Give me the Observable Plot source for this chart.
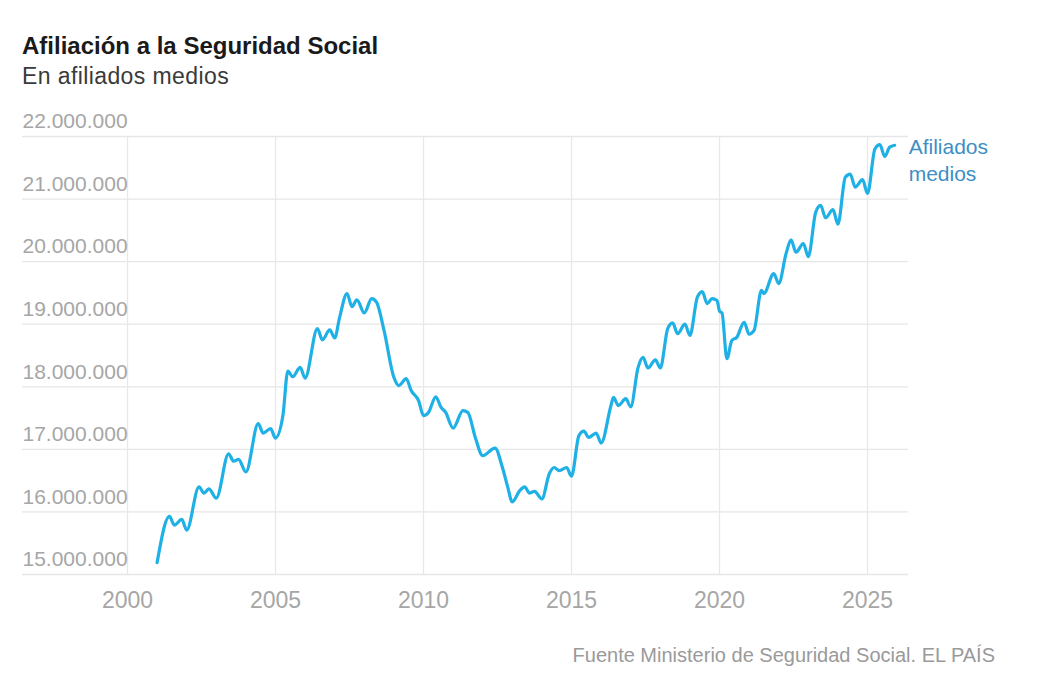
<!DOCTYPE html>
<html>
<head>
<meta charset="utf-8">
<script src="https://cdn.jsdelivr.net/npm/d3@7"></script>
<script src="https://cdn.jsdelivr.net/npm/@observablehq/plot@0.6"></script>
<style>
  html, body { margin: 0; padding: 0; background: #fff; }
  #wrap { position: relative; width: 1050px; height: 700px; font-family: "Liberation Sans", Arial, sans-serif; }
  #title { position: absolute; left: 22px; top: 34px; font-size: 24px; font-weight: bold; color: #1a1a1a; line-height: 1; }
  #subtitle { position: absolute; left: 22px; top: 65px; font-size: 23px; letter-spacing: 0.4px; color: #3a3a3a; line-height: 1; }
  #chart { position: absolute; left: 0; top: 100px; }
  #caption { position: absolute; right: 55px; top: 645px; font-size: 20px; color: #9a9a9a; line-height: 1; }
</style>
</head>
<body>
<div id="wrap">
  <div id="title">Afiliación a la Seguridad Social</div>
  <div id="subtitle">En afiliados medios</div>
  <div id="chart"></div>
  <div id="caption">Fuente Ministerio de Seguridad Social. EL PAÍS</div>
</div>
<script>
const months = [
  "2001-01","2001-06","2001-08","2001-11",
  "2002-01","2002-06","2002-08","2002-10",
  "2003-01","2003-06","2003-08","2003-10",
  "2004-01","2004-06","2004-08","2004-11",
  "2005-01","2005-04","2005-06","2005-08","2005-11",
  "2006-01","2006-06","2006-08","2006-11",
  "2007-01","2007-03","2007-06","2007-08","2007-10",
  "2008-01","2008-04","2008-06","2008-09",
  "2009-01","2009-03","2009-06","2009-08","2009-11",
  "2010-01","2010-03","2010-06","2010-08","2010-10",
  "2011-01","2011-05","2011-07","2011-10",
  "2012-01","2012-06","2012-09","2012-11",
  "2013-01","2013-04","2013-06","2013-08","2013-10",
  "2014-01","2014-04","2014-06","2014-08","2014-11",
  "2015-01","2015-04","2015-06","2015-08","2015-11",
  "2016-01","2016-05","2016-06","2016-08","2016-11",
  "2017-01","2017-04","2017-06","2017-08","2017-11",
  "2018-01","2018-04","2018-06","2018-08","2018-11",
  "2019-01","2019-04","2019-06","2019-08","2019-10","2019-12",
  "2020-01","2020-02","2020-04","2020-06","2020-08","2020-11",
  "2021-01","2021-03","2021-06","2021-07","2021-11",
  "2022-01","2022-04","2022-06","2022-08","2022-11",
  "2023-01","2023-04","2023-06","2023-08","2023-11",
  "2024-01","2024-04","2024-06","2024-08","2024-11",
  "2025-01","2025-04","2025-06","2025-08","2025-10","2025-12"
];
const afiliados = [
  15190000,15930000,15790000,15880000,
  15710000,16400000,16300000,16370000,
  16220000,16930000,16810000,16840000,
  16640000,17410000,17260000,17330000,
  17180000,17540000,18250000,18160000,18310000,
  18140000,18930000,18750000,18910000,
  18780000,19110000,19490000,19280000,19390000,
  19180000,19410000,19350000,18900000,
  18150000,18020000,18130000,17940000,17780000,
  17540000,17590000,17840000,17680000,17590000,
  17340000,17620000,17590000,17190000,
  16900000,17020000,16710000,16420000,
  16160000,16340000,16400000,16300000,16330000,
  16210000,16610000,16710000,16660000,16710000,
  16570000,17220000,17290000,17190000,17260000,
  17100000,17700000,17830000,17700000,17810000,
  17680000,18310000,18470000,18300000,18430000,
  18300000,18930000,19020000,18850000,19000000,
  18820000,19430000,19520000,19330000,19410000,19380000,
  19210000,19180000,18450000,18740000,18790000,19030000,
  18840000,18900000,19540000,19490000,19810000,
  19650000,20130000,20350000,20150000,20290000,
  20080000,20790000,20900000,20700000,20830000,
  20600000,21350000,21400000,21190000,21310000,
  21090000,21800000,21870000,21680000,21830000,21860000
];
const yTicks = [15000000,16000000,17000000,18000000,19000000,20000000,21000000,22000000];
const xTicks = [2000,2005,2010,2015,2020,2025];
const seriesLabel = "Afiliados\nmedios";

const data = months.map((m, i) => ({
  t: +m.slice(0, 4) + (+m.slice(5) - 1) / 12,
  v: afiliados[i]
}));
const fmt = d => String(d).replace(/\B(?=(\d{3})+(?!\d))/g, ".");

const chart = Plot.plot({
  width: 1050,
  height: 530,
  marginTop: 36,
  marginBottom: 56,
  marginLeft: 22,
  marginRight: 142,
  x: {type: "linear", domain: [1996.453, 2026.385], axis: null},
  y: {domain: [15000000, 22000000], axis: null},
  style: {fontFamily: "'Liberation Sans', Arial, sans-serif", color: "#a6a6a6", background: "white"},
  marks: [
    Plot.ruleY(yTicks, {stroke: "#e6e6e6", strokeWidth: 1.3}),
    Plot.ruleX(xTicks, {stroke: "#e8e8e8", strokeWidth: 1.3}),
    Plot.text(yTicks, {y: d => d, frameAnchor: "left", textAnchor: "start", dy: -15, text: fmt, fill: "#a6a6a6", fontSize: 21}),
    Plot.axisX(xTicks, {tickSize: 0, tickPadding: 17, fontSize: 23, label: null, tickFormat: d => String(d)}),
    Plot.line(data, {x: "t", y: "v", stroke: "#1fb0e6", strokeWidth: 3.2, strokeLinejoin: "round", strokeLinecap: "round", curve: "monotone-x"}),
    Plot.text([data[data.length - 1]], {x: "t", y: "v", text: () => seriesLabel, dx: 14, dy: -10, lineAnchor: "top", textAnchor: "start", lineHeight: 1.27, fill: "#3d8fc4", fontSize: 21})
  ]
});
document.getElementById("chart").appendChild(chart);
</script>
</body>
</html>
